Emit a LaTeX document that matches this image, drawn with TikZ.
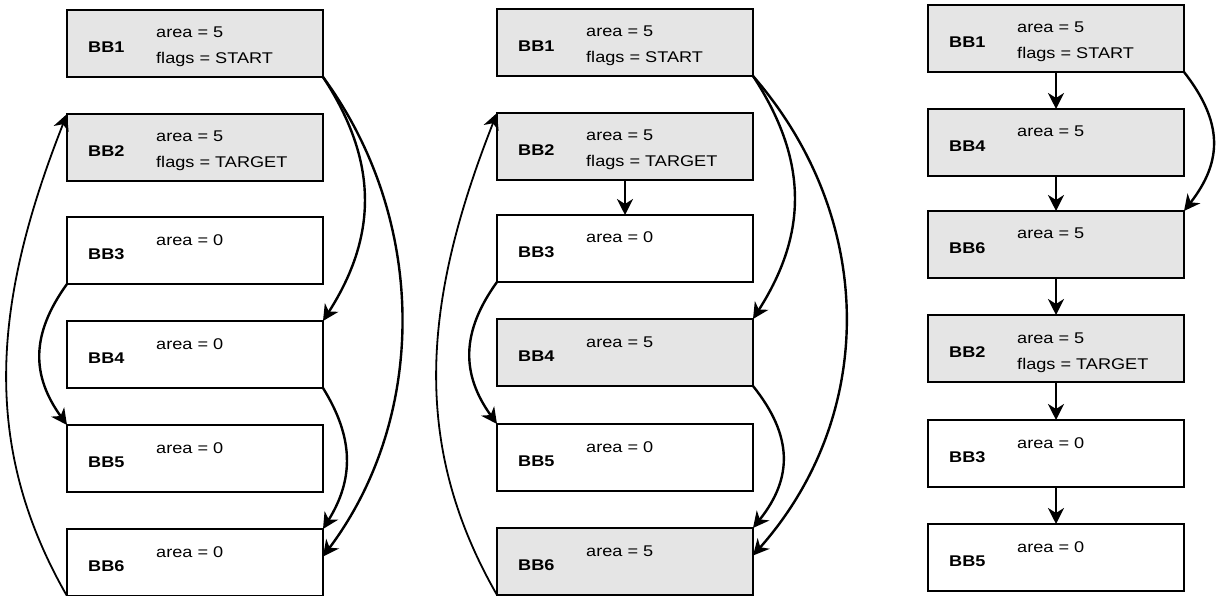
\documentclass[tikz,border=0pt]{standalone}
\usepackage{fontspec}
\setmainfont{Liberation Sans}[FakeStretch=1.17]
\usetikzlibrary{arrows.meta}
\definecolor{boxgray}{HTML}{E5E5E5}
\newcommand{\bbone}[6]{% name, x, y, style, label, line1
  \node[#4] (#1) at (#2,#3) {};
  \node[bblabel] (#1-id) at (#2+21,#3+37) {#5};
  \node[attr] (#1-a) at (#2+89,#3+28) {#6};
}
\newcommand{\bbtwo}[7]{% name, x, y, style, label, line1, line2
  \bbone{#1}{#2}{#3}{#4}{#5}{#6}
  \node[attr] (#1-b) at (#2+89,#3+54) {#7};
}
\begin{document}
\begin{tikzpicture}[x=1pt,y=-1pt,
  box/.style={draw=black,line width=2.2pt,minimum width=256pt,minimum height=67pt,anchor=north west,inner sep=0pt,outer sep=0pt},
  hl/.style={box,fill=boxgray},
  pl/.style={box,fill=white},
  bblabel/.style={font=\fontsize{15.5}{18}\selectfont\bfseries,anchor=west,inner sep=0pt},
  attr/.style={font=\fontsize{15.5}{18}\selectfont,anchor=base west,inner sep=0pt},
  edge/.style={line width=2.4pt,-{Stealth[length=16pt,width=16pt,inset=5pt]}},
  thin edge/.style={edge,line width=1.8pt}
]
\useasboundingbox (0,0) rectangle (1218,596);

% ---------- panel 1 ----------
\bbtwo{a1}{67}{10}{hl}{BB1}{area = 5}{flags = START}
\bbtwo{a2}{67}{114}{hl}{BB2}{area = 5}{flags = TARGET}
\bbone{a3}{67}{217}{pl}{BB3}{area = 0}
\bbone{a4}{67}{321}{pl}{BB4}{area = 0}
\bbone{a5}{67}{425}{pl}{BB5}{area = 0}
\bbone{a6}{67}{529}{pl}{BB6}{area = 0}

\draw[edge] (a1.south east) .. controls +(55,84) and +(55,-86) .. (a4.north east);
\draw[edge] (a1.south east) .. controls +(105,143) and +(105,-140) .. ([yshift=6pt]a6.east);
\draw[edge] (a4.south east) .. controls +(31,50) and +(31,-50) .. (a6.north east);
\draw[edge] (a3.south west) .. controls +(-36,50) and +(-36,-50) .. (a5.north west);
\draw[thin edge] (a6.south west) .. controls +(-86,-150) and +(-75,190) .. (a2.north west);

% ---------- panel 2 ----------
\bbtwo{b1}{497}{9}{hl}{BB1}{area = 5}{flags = START}
\bbtwo{b2}{497}{113}{hl}{BB2}{area = 5}{flags = TARGET}
\bbone{b3}{497}{215}{pl}{BB3}{area = 0}
\bbone{b4}{497}{319}{hl}{BB4}{area = 5}
\bbone{b5}{497}{424}{pl}{BB5}{area = 0}
\bbone{b6}{497}{528}{hl}{BB6}{area = 5}

\draw[edge] (b1.south east) .. controls +(55,84) and +(55,-86) .. (b4.north east);
\draw[edge] (b1.south east) .. controls +(124,143) and +(124,-140) .. ([yshift=6pt]b6.east);
\draw[edge] (b2.south) -- (b3.north);
\draw[edge] (b4.south east) .. controls +(40,50) and +(40,-50) .. (b6.north east);
\draw[edge] (b3.south west) .. controls +(-36,50) and +(-36,-50) .. (b5.north west);
\draw[thin edge] (b6.south west) .. controls +(-86,-150) and +(-75,190) .. (b2.north west);

% ---------- panel 3 ----------
\bbtwo{c1}{928}{5}{hl}{BB1}{area = 5}{flags = START}
\bbone{c4}{928}{109}{hl}{BB4}{area = 5}
\bbone{c6}{928}{211}{hl}{BB6}{area = 5}
\bbtwo{c2}{928}{315}{hl}{BB2}{area = 5}{flags = TARGET}
\bbone{c3}{928}{420}{pl}{BB3}{area = 0}
\bbone{c5}{928}{524}{pl}{BB5}{area = 0}

\draw[edge] (c1.south) -- (c4.north);
\draw[edge] (c4.south) -- (c6.north);
\draw[edge] (c6.south) -- (c2.north);
\draw[edge] (c2.south) -- (c3.north);
\draw[edge] (c3.south) -- (c5.north);
\draw[edge] (c1.south east) .. controls +(39,50) and +(39,-50) .. (c6.north east);
\end{tikzpicture}
\end{document}
